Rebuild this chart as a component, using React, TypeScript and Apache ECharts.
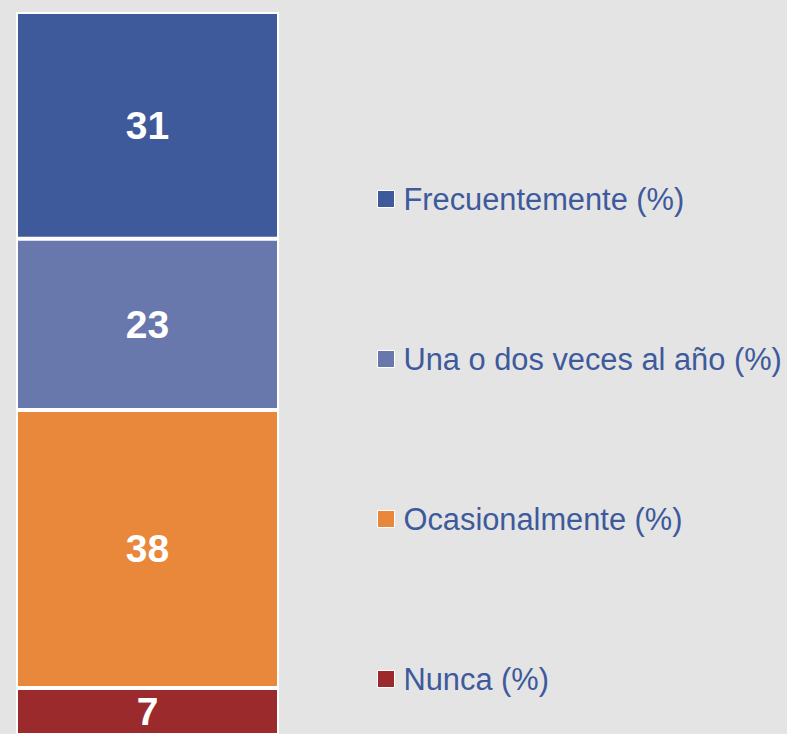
import React, { useEffect, useRef } from "react";
import * as echarts from "echarts";

const categories = ["Total"];
const seriesNames = ["Nunca (%)", "Ocasionalmente (%)", "Una o dos veces al año (%)", "Frecuentemente (%)"];
const seriesValues = [7.3, 38, 23.4, 31];
const seriesColors = ["#9a2a2b", "#e9873b", "#6878ad", "#3f5a9b"];
const legendOrder = ["Frecuentemente (%)", "Una o dos veces al año (%)", "Ocasionalmente (%)", "Nunca (%)"];

export default function App() {
  const ref = useRef<HTMLDivElement>(null);
  useEffect(() => {
    if (!ref.current) return;
    const chart = echarts.init(ref.current, null, { renderer: "svg" });
    chart.setOption({
      animation: false,
      backgroundColor: "#e4e4e4",
      grid: { left: 16, top: 12, right: 508, bottom: 0 },
      xAxis: { type: "category", data: categories, show: false },
      yAxis: { type: "value", min: 1, max: 99.7, show: false },
      legend: {
        orient: "vertical",
        left: 377,
        top: 182,
        padding: 0,
        itemWidth: 17,
        itemHeight: 17,
        itemGap: 126,
        icon: "rect",
        data: legendOrder,
        itemStyle: { borderColor: "#ffffff", borderWidth: 1 },
        textStyle: {
          color: "#3d5a9c",
          fontSize: 30.8,
          lineHeight: 34,
          fontFamily: "Liberation Sans, Arial, sans-serif",
          padding: [0, 0, 0, 4],
        },
      },
      series: seriesNames.map((name, i) => ({
        name,
        type: "bar",
        stack: "total",
        barWidth: 263,
        data: [seriesValues[i]],
        itemStyle: { color: seriesColors[i], borderColor: "#ffffff", borderWidth: 2 },
        label: {
          show: true,
          position: "inside",
          color: "#ffffff",
          fontSize: 39,
          fontWeight: "bold",
          fontFamily: "Liberation Sans, Arial, sans-serif",
          formatter: (p: any) => String(Math.round(p.value)),
        },
      })),
    });
    return () => chart.dispose();
  }, []);
  return (
    <div
      ref={ref}
      style={{ position: "fixed", left: 0, top: 0, width: 787, height: 734 }}
    />
  );
}
